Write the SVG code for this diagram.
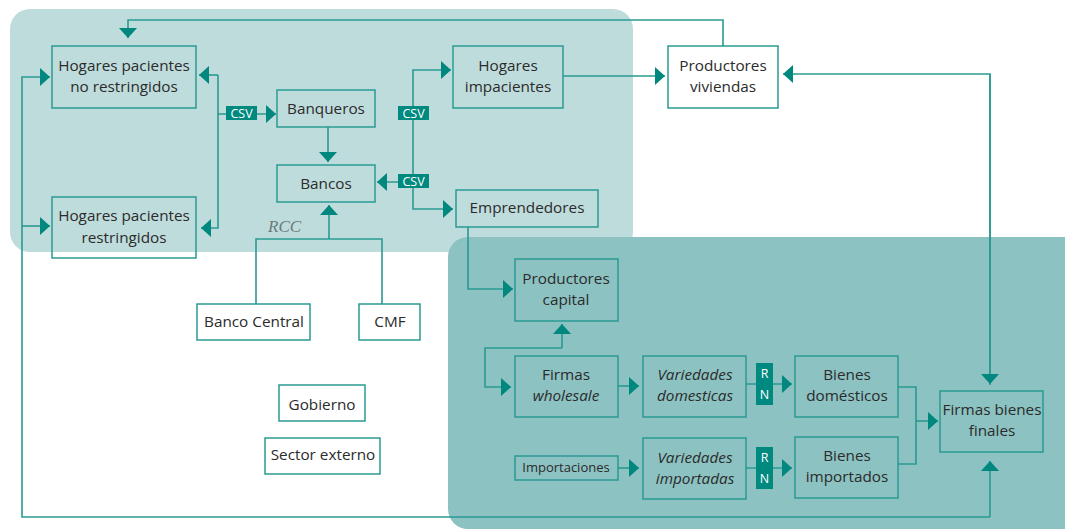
<svg xmlns="http://www.w3.org/2000/svg" width="1065" height="530" viewBox="0 0 1065 530">
<style>
.panel1{fill:#bfdcdc}
.panel2{fill:#8cc2c2}
.box{fill:none;stroke:#2a9a92;stroke-width:1.5}
.wbox{fill:#ffffff;stroke:#2a9a92;stroke-width:1.5}
.t{font-family:"Open Sans","Noto Sans",sans-serif;font-size:15.3px;fill:#2b2b2b;text-anchor:middle}
.it{font-style:italic}
.small{font-size:13px}
.ln{fill:none;stroke:#2a9a92;stroke-width:1.6}
.tag{fill:#00897f}
.tagt{font-family:"Open Sans","Noto Sans",sans-serif;font-size:12.5px;fill:#ffffff;text-anchor:middle}
.rcc{font-family:"Liberation Serif",serif;font-style:italic;font-size:17px;fill:#6a7a7a}
</style>
<defs>
<marker id="ah" markerUnits="userSpaceOnUse" markerWidth="11" markerHeight="18" refX="10" refY="9" orient="auto">
<path d="M0,0 L10,9 L0,18 z" fill="#00877e"/>
</marker>
</defs>
<rect class="panel1" x="10" y="9" width="623" height="243" rx="20"/>
<rect class="panel2" x="448" y="237" width="640" height="292" rx="20"/>

<g id="connectors">
<path class="ln" d="M723,46 V20 H128 V38" marker-end="url(#ah)"/>
<path class="ln" d="M990,517 V461" marker-end="url(#ah)"/>
<path class="ln" d="M990,517 H22 V77 H50" marker-end="url(#ah)"/>
<path class="ln" d="M22,226 H50" marker-end="url(#ah)"/>
<path class="ln" d="M218,75 H199" marker-end="url(#ah)"/>
<path class="ln" d="M218,75 V228 H201" marker-end="url(#ah)"/>
<path class="ln" d="M218,114 H276" marker-end="url(#ah)"/>
<path class="ln" d="M328,127 V162" marker-end="url(#ah)"/>
<path class="ln" d="M413,181 V70 H451" marker-end="url(#ah)"/>
<path class="ln" d="M413,181 V209 H453" marker-end="url(#ah)"/>
<path class="ln" d="M413,182 H377" marker-end="url(#ah)"/>
<path class="ln" d="M563,76 H665" marker-end="url(#ah)"/>
<path class="ln" d="M990,385 V74 H783" marker-end="url(#ah)"/>
<path class="ln" d="M990,74 V384" marker-end="url(#ah)"/>
<path class="ln" d="M468,227 V289 H513" marker-end="url(#ah)"/>
<path class="ln" d="M562,348 H485 V387 H511" marker-end="url(#ah)"/>
<path class="ln" d="M562,348 V324" marker-end="url(#ah)"/>
<path class="ln" d="M618,386 H639" marker-end="url(#ah)"/>
<path class="ln" d="M618,468 H639" marker-end="url(#ah)"/>
<path class="ln" d="M746,384 H792" marker-end="url(#ah)"/>
<path class="ln" d="M746,468 H792" marker-end="url(#ah)"/>
<path class="ln" d="M898,387 H916 V464 H898"/>
<path class="ln" d="M916,421 H938" marker-end="url(#ah)"/>
<path class="ln" d="M256,304 V239 H382 V304"/>
<path class="ln" d="M329,239 V205" marker-end="url(#ah)"/>
<rect class="tag" x="226" y="106" width="31" height="14"/>
<text class="tagt" x="241.5" y="118">CSV</text>
<rect class="tag" x="398" y="106" width="31" height="14"/>
<text class="tagt" x="413.5" y="118">CSV</text>
<rect class="tag" x="398" y="174" width="31" height="14"/>
<text class="tagt" x="413.5" y="186">CSV</text>
<rect class="tag" x="756" y="363" width="17" height="42"/>
<text class="tagt" x="764.5" y="378">R</text>
<text class="tagt" x="764.5" y="399">N</text>
<rect class="tag" x="756" y="447" width="17" height="42"/>
<text class="tagt" x="764.5" y="462">R</text>
<text class="tagt" x="764.5" y="483">N</text>
<text class="rcc" x="268" y="232">RCC</text>
</g>

<g id="n-hpnr"><rect class="box" x="52" y="46" width="144" height="62"/><text class="t" x="124" y="71">Hogares pacientes</text><text class="t" x="124" y="92">no restringidos</text></g>
<g id="n-hpr"><rect class="box" x="52" y="197" width="144" height="61"/><text class="t" x="124" y="221">Hogares pacientes</text><text class="t" x="124" y="243">restringidos</text></g>
<g id="n-banqueros"><rect class="box" x="277" y="90" width="98" height="37"/><text class="t" x="326" y="114">Banqueros</text></g>
<g id="n-bancos"><rect class="box" x="277" y="165" width="98" height="37"/><text class="t" x="326" y="189">Bancos</text></g>
<g id="n-himp"><rect class="box" x="453" y="46" width="110" height="62"/><text class="t" x="508" y="71">Hogares</text><text class="t" x="508" y="92">impacientes</text></g>
<g id="n-empr"><rect class="box" x="456" y="190" width="142" height="37"/><text class="t" x="527" y="213">Emprendedores</text></g>
<g id="n-pviv"><rect class="wbox" x="668" y="46" width="110" height="62"/><text class="t" x="723" y="71">Productores</text><text class="t" x="723" y="92">viviendas</text></g>
<g id="n-bc"><rect class="wbox" x="197" y="304" width="113" height="36"/><text class="t" x="254" y="327">Banco Central</text></g>
<g id="n-cmf"><rect class="wbox" x="359" y="304" width="61" height="36"/><text class="t" x="390" y="327">CMF</text></g>
<g id="n-gob"><rect class="wbox" x="279" y="385" width="86" height="36"/><text class="t" x="322" y="410">Gobierno</text></g>
<g id="n-sext"><rect class="wbox" x="265" y="438" width="115" height="36"/><text class="t" x="323" y="460">Sector externo</text></g>
<g id="n-pcap"><rect class="box" x="515" y="259" width="103" height="62"/><text class="t" x="566" y="284">Productores</text><text class="t" x="566" y="305">capital</text></g>
<g id="n-fw"><rect class="box" x="515" y="356" width="103" height="61"/><text class="t" x="566" y="380">Firmas</text><text class="t it" x="566" y="401">wholesale</text></g>
<g id="n-vd"><rect class="box" x="643" y="356" width="103" height="61"/><text class="t it" x="695" y="380">Variedades</text><text class="t it" x="695" y="401">domesticas</text></g>
<g id="n-imp"><rect class="box" x="515" y="456" width="103" height="24"/><text class="t small" x="566" y="472">Importaciones</text></g>
<g id="n-vi"><rect class="box" x="643" y="438" width="103" height="61"/><text class="t it" x="695" y="463">Variedades</text><text class="t it" x="695" y="484">importadas</text></g>
<g id="n-bd"><rect class="box" x="795" y="356" width="103" height="61"/><text class="t" x="847" y="380">Bienes</text><text class="t" x="847" y="401">domésticos</text></g>
<g id="n-bi"><rect class="box" x="795" y="437" width="103" height="61"/><text class="t" x="847" y="461">Bienes</text><text class="t" x="847" y="482">importados</text></g>
<g id="n-fbf"><rect class="box" x="940" y="391" width="103" height="61"/><text class="t" x="992" y="415">Firmas bienes</text><text class="t" x="992" y="436">finales</text></g>
</svg>
